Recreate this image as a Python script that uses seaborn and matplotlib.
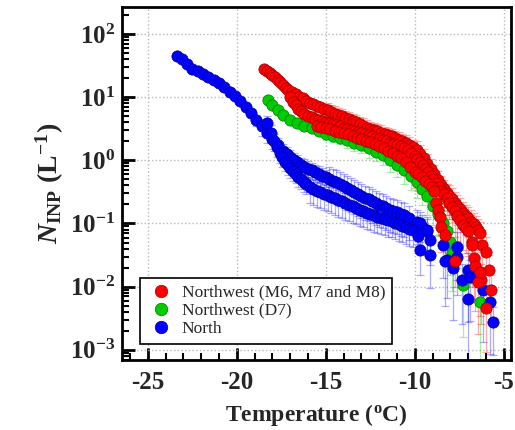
import numpy as np
import pandas as pd
import matplotlib
matplotlib.use('Agg')
import matplotlib.pyplot as plt
import seaborn as sns
from matplotlib.ticker import LogLocator, MultipleLocator, FuncFormatter, NullFormatter, FixedLocator
from matplotlib.lines import Line2D

# ---------------- data (temperature in degC, log10 of N_INP in L^-1, relative error) -------------
# North (blue) sample 1
n1_t = [-23.35, -23.1, -22.8, -22.5, -22.2, -21.9, -21.6, -21.3, -21.0, -20.7, -20.4, -20.1, -19.8, -19.5,
        -19.2, -18.9, -18.6, -18.3, -18.0, -17.7, -17.4, -17.2, -17.0, -16.8, -16.6, -16.4, -16.2, -16.0,
        -15.8, -15.6, -15.4, -15.2, -15.0, -14.8, -14.6, -14.4, -14.2, -14.0, -13.8, -13.6, -13.4, -13.2,
        -13.0, -12.8, -12.6, -12.4, -12.2, -12.0, -11.8, -11.6, -11.4, -11.2, -11.0, -10.8, -10.6, -10.3,
        -9.9, -9.6, -9.3]
n1_logn = [1.65, 1.60, 1.53, 1.45, 1.41, 1.37, 1.32, 1.27, 1.22, 1.16, 1.09, 1.02, 0.94, 0.85,
           0.75, 0.64, 0.54, 0.43, 0.34, 0.24, 0.15, 0.10, 0.05, 0.01, -0.03, -0.07, -0.10, -0.13,
           -0.16, -0.19, -0.21, -0.24, -0.26, -0.29, -0.32, -0.35, -0.38, -0.41, -0.44, -0.47, -0.50, -0.53,
           -0.56, -0.59, -0.62, -0.65, -0.68, -0.71, -0.73, -0.76, -0.78, -0.80, -0.82, -0.85, -0.87, -0.91,
           -0.97, -1.05, -1.12]
n1_rel = [0.12] * 14 + [0.15, 0.2] + [0.3] * 17 + [0.55] * 26
# North (blue) sample 2
n2_t = [-18.3, -18.1, -17.9, -17.75, -17.6, -17.45, -17.3, -17.15, -17.0, -16.85, -16.7, -16.55, -16.4,
        -16.25, -16.1, -15.9, -15.7, -15.5, -15.3, -15.1, -14.9, -14.7, -14.5, -14.3, -14.1, -13.9, -13.7,
        -13.5, -13.3, -13.1, -12.9, -12.7, -12.5, -12.3, -12.1, -11.9, -11.7, -11.5, -11.3, -11.1, -10.9,
        -10.7, -10.5, -10.3, -10.1, -9.8]
n2_logn = [0.59, 0.44, 0.30, 0.21, 0.12, 0.05, -0.02, -0.07, -0.12, -0.17, -0.21, -0.26, -0.30,
           -0.34, -0.38, -0.42, -0.45, -0.48, -0.50, -0.53, -0.55, -0.58, -0.60, -0.63, -0.65, -0.68, -0.70,
           -0.73, -0.75, -0.78, -0.80, -0.83, -0.85, -0.87, -0.89, -0.91, -0.93, -0.95, -0.96, -0.99, -1.01,
           -1.04, -1.06, -1.09, -1.11, -1.20]
n2_rel = [0.3] * 15 + [0.45] * 31
# North (blue) sparse warm tail
n3_t = [-9.7, -9.3, -9.15, -9.15, -9.7, -8.4, -8.2, -7.65, -7.6, -7.85, -7.35, -7.0, -7.0, -6.9,
        -6.15, -5.8, -5.6, -8.3]
n3_logn = [-0.99, -1.10, -1.26, -1.50, -1.42, -1.34, -1.58, -1.37, -1.53, -1.70, -1.89, -1.73, -2.20,
           -1.84, -2.05, -2.24, -2.56, -1.60]
n3_rel = [0.5, 0.6, 0.6, 0.7, 0.6, 0.7, 0.75, 0.7, 0.75, 0.85, 0.8, 0.85, 0.9, 0.8,
          0.85, 0.85, 0.7, 0.8]

# Northwest M6, M7, M8 (red)
ra_t = [-18.45, -18.3, -18.15, -18.0, -17.85, -17.7, -17.55, -17.4, -17.25, -17.1, -16.9, -16.7, -16.5,
        -16.3, -16.1, -15.9, -15.7, -15.5, -15.3, -15.1, -14.9, -14.7, -14.5, -14.3, -14.1, -13.9, -13.7,
        -13.5, -13.3, -13.1, -12.9, -12.7, -12.5, -12.3, -12.1, -11.9, -11.7, -11.5, -11.3, -11.1, -10.9,
        -10.7, -10.5, -10.3, -10.1, -9.9, -9.7, -9.5, -9.3, -9.1, -8.9, -8.7, -8.5, -8.35, -8.2, -8.05,
        -7.9, -7.75, -7.6, -7.45, -7.3, -7.15, -7.0, -6.85, -6.7, -6.55, -6.45, -6.35, -6.2, -6.0, -5.85, -5.7]
ra_logn = [1.45, 1.42, 1.39, 1.35, 1.32, 1.28, 1.24, 1.19, 1.15, 1.11, 1.075, 1.045, 1.01,
           0.98, 0.945, 0.915, 0.89, 0.86, 0.84, 0.81, 0.79, 0.76, 0.74, 0.72, 0.70, 0.67, 0.65,
           0.62, 0.60, 0.57, 0.55, 0.52, 0.50, 0.48, 0.46, 0.44, 0.42, 0.40, 0.38, 0.35, 0.33,
           0.30, 0.28, 0.25, 0.21, 0.16, 0.10, 0.03, -0.05, -0.13, -0.22, -0.31, -0.39, -0.46, -0.52, -0.57,
           -0.62, -0.67, -0.72, -0.77, -0.83, -0.88, -0.92, -0.97, -1.01, -1.05, -1.10, -1.15, -1.34, -1.45,
           -1.73, -2.05]
ra_rel = [0.08] * 10 + [0.15] * 10 + [0.3] * 25 + [0.4] * 10 + [0.5] * 13 + [0.7] * 4
rb_t = [-17.0, -16.85, -16.7, -16.55, -16.4, -16.2, -16.0, -15.8, -15.6, -15.4, -15.2, -15.0, -14.8,
        -14.6, -14.4, -14.2, -14.0, -13.8, -13.6, -13.4, -13.2, -13.0, -12.8, -12.6, -12.4, -12.2, -12.0,
        -11.8, -11.6, -11.4, -11.2, -11.0, -10.8, -10.6, -10.4, -10.2, -10.0, -9.85, -9.7, -9.55, -9.4,
        -9.25, -9.1, -8.95, -8.8, -8.65, -8.5, -8.35, -8.2, -8.05, -7.9, -7.75, -7.6, -7.45, -7.3, -7.15,
        -7.0, -6.8, -6.7, -6.6, -6.3, -6.0]
rb_logn = [1.00, 0.93, 0.87, 0.82, 0.78, 0.74, 0.71, 0.68, 0.66, 0.64, 0.62, 0.60, 0.59,
           0.57, 0.56, 0.54, 0.52, 0.50, 0.48, 0.46, 0.45, 0.43, 0.42, 0.40, 0.38, 0.36, 0.34,
           0.32, 0.30, 0.28, 0.26, 0.24, 0.22, 0.20, 0.17, 0.12, 0.07, 0.02, -0.03, -0.08, -0.13,
           -0.18, -0.24, -0.30, -0.36, -0.42, -0.48, -0.54, -0.60, -0.67, -0.74, -0.81, -0.88, -0.95, -1.02, -1.07,
           -1.12, -1.30, -1.55, -1.68, -1.90, -2.34]
rb_rel = [0.1] * 5 + [0.2] * 10 + [0.3] * 20 + [0.45] * 15 + [0.6] * 7 + [0.8] * 5
rc_t = [-15.5, -15.25, -15.0, -14.75, -14.5, -14.25, -14.0, -13.75, -13.5, -13.25, -13.0, -12.75, -12.5,
        -12.25, -12.0, -11.75, -11.5, -11.25, -11.0, -10.75, -10.5, -10.25, -10.0, -9.8, -9.6, -9.4, -9.2,
        -9.05, -8.9, -8.8, -8.7, -8.6, -8.5, -8.3, -7.75]
rc_logn = [0.55, 0.53, 0.51, 0.49, 0.47, 0.45, 0.43, 0.41, 0.39, 0.36, 0.34, 0.31, 0.29,
           0.26, 0.22, 0.19, 0.15, 0.11, 0.07, 0.03, -0.03, -0.10, -0.18, -0.22, -0.27, -0.32, -0.38,
           -0.43, -0.49, -0.67, -0.78, -0.90, -1.05, -1.18, -1.60]
rc_rel = [0.25] * 10 + [0.3] * 12 + [0.45] * 8 + [0.6] * 5
rx_t = [-6.8, -6.45, -6.35]
rx_logn = [-1.34, -1.93, -1.77]
rx_rel = [0.75, 0.85, 0.8]

# Northwest D7 (green)
g_t = [-18.26, -18.0, -17.7, -17.4, -17.0, -16.6, -16.2, -15.8, -15.4, -15.0, -14.6, -14.2, -13.8,
       -13.4, -13.0, -12.6, -12.2, -11.8, -11.4, -11.0, -10.6, -10.2, -9.9, -9.6, -9.3, -9.0, -8.7,
       -8.4, -8.2, -8.0, -7.9, -7.3, -6.35]
g_logn = [0.96, 0.88, 0.80, 0.72, 0.64, 0.59, 0.55, 0.52, 0.47, 0.42, 0.39, 0.36, 0.32,
          0.28, 0.24, 0.19, 0.14, 0.08, 0.01, -0.07, -0.16, -0.25, -0.34, -0.45, -0.57, -0.72, -0.85,
          -0.99, -1.12, -1.30, -1.47, -1.97, -2.25]
g_rel = [0.08, 0.08, 0.08, 0.1, 0.1, 0.1, 0.12, 0.15, 0.15, 0.2, 0.2, 0.2, 0.25,
         0.25, 0.25, 0.3, 0.3, 0.3, 0.35, 0.35, 0.4, 0.4, 0.45, 0.45, 0.5, 0.5, 0.55,
         0.6, 0.65, 0.7, 0.75, 0.85, 0.9]

series_names = ['Northwest (M6, M7 and M8)', 'Northwest (D7)', 'North']
series_colors = ['#ff0000', '#00cc00', '#0000ff']
edge_colors = ['#a00000', '#007a00', '#00009a']
x_ticks = [-25, -20, -15, -10, -5]

# ---------------- build table ----------------
curves = [
    ('North', n1_t, n1_logn, n1_rel),
    ('North', n2_t, n2_logn, n2_rel),
    ('North', n3_t, n3_logn, n3_rel),
    ('Northwest (M6, M7 and M8)', ra_t, ra_logn, ra_rel),
    ('Northwest (M6, M7 and M8)', rb_t, rb_logn, rb_rel),
    ('Northwest (M6, M7 and M8)', rc_t, rc_logn, rc_rel),
    ('Northwest (M6, M7 and M8)', rx_t, rx_logn, rx_rel),
    ('Northwest (D7)', g_t, g_logn, g_rel),
]
frames = []
for i, (name, t, ln, rel) in enumerate(curves):
    frames.append(pd.DataFrame({'T': t, 'N': 10 ** np.array(ln), 'rel': rel,
                                'series': name, 'curve': i}))
df = pd.concat(frames, ignore_index=True)

# ---------------- style ----------------
sns.set_theme(style='ticks')
plt.rcParams['font.family'] = ['Liberation Serif', 'DejaVu Serif']
plt.rcParams['mathtext.fontset'] = 'custom'
plt.rcParams['mathtext.rm'] = 'Liberation Serif:bold'
plt.rcParams['mathtext.bf'] = 'Liberation Serif:bold'
plt.rcParams['mathtext.it'] = 'Liberation Serif:italic:bold'
plt.rcParams['mathtext.default'] = 'bf'

fig = plt.figure(figsize=(5.15, 4.3), dpi=100)
ax = fig.add_axes([0.237, 0.163, 0.755, 0.821])
ax.set_yscale('log')

cmap = dict(zip(series_names, series_colors))
emap = dict(zip(series_names, edge_colors))

# error bars first (behind the markers)
for _, sub in df.groupby('curve'):
    name = sub['series'].iloc[0]
    y = sub['N'].values
    lo = y * sub['rel'].values
    hi = y * sub['rel'].values
    ax.errorbar(sub['T'], y, yerr=[lo, hi], fmt='none', ecolor=cmap[name], alpha=0.33,
                elinewidth=0.9, capsize=2.8, capthick=0.9, zorder=2)

# markers: green, blue, red order
for name in ['Northwest (D7)', 'North', 'Northwest (M6, M7 and M8)']:
    sub = df[df['series'] == name]
    sns.scatterplot(data=sub, x='T', y='N', color=cmap[name], edgecolor=emap[name],
                    linewidth=0.5, s=66, ax=ax, legend=False, zorder=3)

ax.set_xlim(-26.45, -4.6)
ax.set_ylim(10 ** -3.16, 10 ** 2.43)

ax.xaxis.set_major_locator(FixedLocator(x_ticks))
ax.xaxis.set_minor_locator(MultipleLocator(1))
ax.yaxis.set_major_locator(LogLocator(base=10, numticks=10))
ax.yaxis.set_minor_locator(LogLocator(base=10, subs=np.arange(2, 10), numticks=20))
ax.yaxis.set_minor_formatter(NullFormatter())
ax.yaxis.set_major_formatter(FuncFormatter(lambda v, p: r'$\mathbf{10^{%d}}$' % int(round(np.log10(v)))))
ax.xaxis.set_major_formatter(FuncFormatter(lambda v, p: '%d' % v))

ax.tick_params(axis='both', which='major', direction='in', length=9, width=2,
               labelsize=18, top=False, right=False, color='black')
ax.tick_params(axis='both', which='minor', direction='in', length=5, width=1.5,
               top=False, right=False, color='black')
ax.tick_params(axis='x', which='major', pad=8)
ax.tick_params(axis='y', which='major', pad=5)
for lab in ax.get_xticklabels():
    lab.set_fontweight('bold')

for sp in ax.spines.values():
    sp.set_linewidth(2)
    sp.set_color('black')

ax.grid(True, which='major', linestyle=':', color='#b8b8b8', linewidth=1)
ax.set_axisbelow(True)

ax.set_xlabel(r'$\mathbf{Temperature\ (^{o}C)}$', fontsize=17, labelpad=6)
ax.set_ylabel(r'$\mathit{N}_{\mathbf{INP}}\ \mathbf{(L^{-1})}$', fontsize=20, labelpad=3)

handles = [Line2D([], [], marker='o', linestyle='none', markersize=9,
                  markerfacecolor=c, markeredgecolor=e, markeredgewidth=0.5)
           for c, e in zip(series_colors, edge_colors)]
leg = ax.legend(handles, series_names, loc='lower left', bbox_to_anchor=(0.046, 0.045),
                borderaxespad=0, frameon=True, fancybox=False, shadow=False,
                prop={'family': 'Liberation Serif', 'size': 12.5}, labelspacing=0.12,
                handletextpad=0.4, borderpad=0.4, handlelength=1.6)
leg.get_frame().set_edgecolor('black')
leg.get_frame().set_linewidth(1.2)
leg.get_frame().set_alpha(1)
leg.set_zorder(5)

fig.savefig('out.png', dpi=100)
